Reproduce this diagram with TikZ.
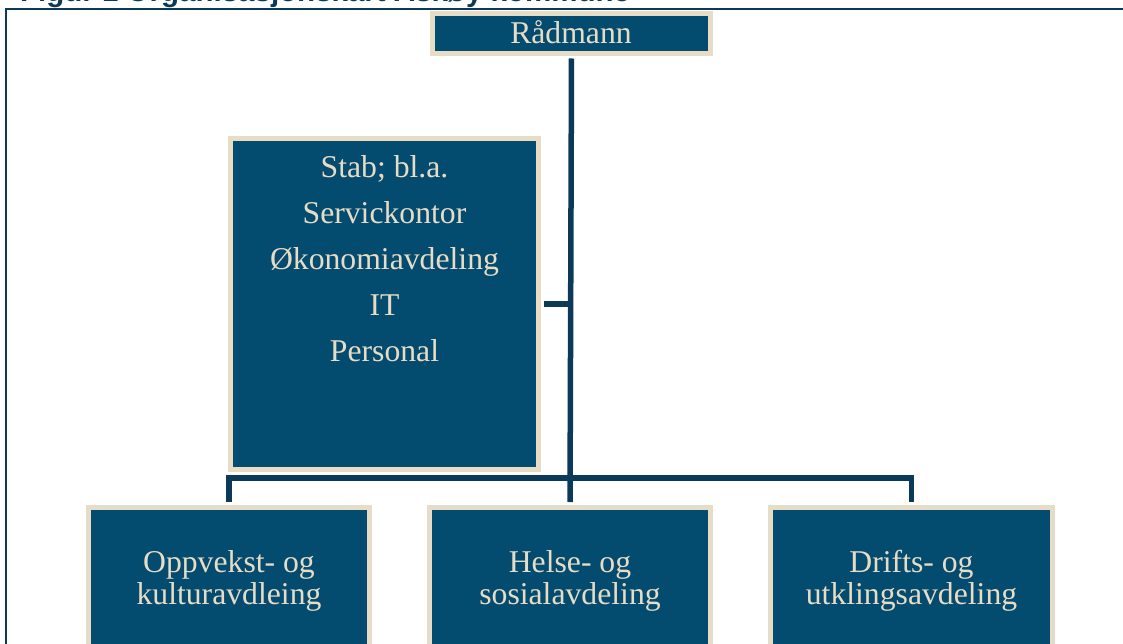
\documentclass[tikz,border=0pt]{standalone}
\usepackage{fontspec}
\setmainfont{Liberation Serif}
\newfontfamily\capfont{Liberation Sans}
\usetikzlibrary{calc}

\definecolor{boxblue}{RGB}{3,76,112}
\definecolor{lineblue}{RGB}{10,58,88}
\definecolor{sand}{RGB}{231,220,198}

\begin{document}
\begin{tikzpicture}[x=1pt, y=-1pt, every node/.style={rectangle},
  unit/.style={draw=sand, line width=5pt, fill=boxblue, inner sep=0pt},
  unittext/.style={text=sand, align=center, inner sep=0pt},
  link/.style={draw=lineblue, line width=5.5pt}]

  \path[use as bounding box, clip] (0,0) rectangle (1123,644);

  \node[anchor=base west, inner sep=0pt, text=lineblue, font=\capfont\bfseries\fontsize{29.5}{30}\selectfont] at (20,2) (caption) {Figur 1 Organisasjonskart Askøy kommune};
  \draw[draw=lineblue, line width=2.5pt] (6,700) |- (1200,9);

  \node[unit, minimum width=278, minimum height=40] at (571.5,33.5) (raad) {};
  \node[unittext, font=\fontsize{31.7}{32}\selectfont] at (571,32) (raadtxt) {Rådmann};

  \node[unit, minimum width=308, minimum height=331] at (384.5,304) (stab) {};
  \node[unittext, font=\fontsize{31.7}{46}\selectfont] at (384.5,259) (stabtxt)
    {Stab; bl.a.\\ Servickontor\\ Økonomiavdeling\\ IT\\ Personal};

  \node[unit, minimum width=281, minimum height=145] at (229,579.5) (oppvekst) {};
  \node[unit, minimum width=281, minimum height=145] at (570,579.5) (helse) {};
  \node[unit, minimum width=282, minimum height=145] at (911.5,579.5) (drift) {};

  \node[unittext, font=\fontsize{31.7}{32.5}\selectfont] at (229,581) (oppvekstxt) {Oppvekst- og\\ kulturavdleing};
  \node[unittext, font=\fontsize{31.7}{32.5}\selectfont] at (570,581) (helsetxt) {Helse- og\\ sosialavdeling};
  \node[unittext, font=\fontsize{31.7}{32.5}\selectfont] at (911.5,581) (drifttxt) {Drifts- og\\ utklingsavdeling};

  \coordinate (bus) at (570,478);

  \draw[link, shorten <=2.5pt, shorten >=2.5pt] (raad.south) -- (helse.north);
  \draw[link, shorten <=2.5pt] (stab.east) -- (stab.east -| raad.south);
  \draw[link, shorten <=2.5pt, shorten >=2.5pt] (oppvekst.north) |- (bus) -| (drift.north);

\end{tikzpicture}
\end{document}
